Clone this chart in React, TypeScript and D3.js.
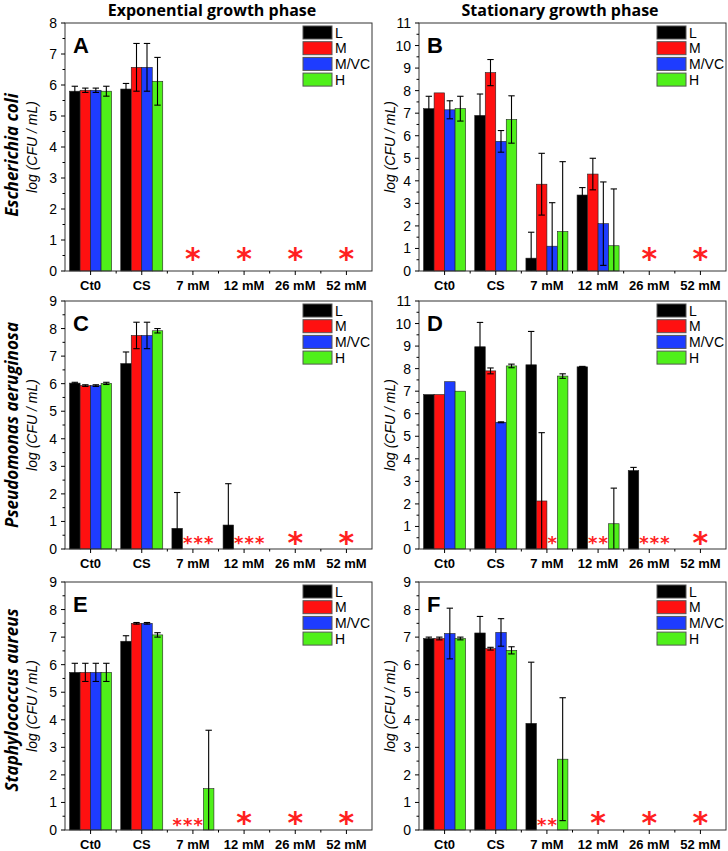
import React from "react";
import * as d3 from "d3";

const categories = ["Ct0", "CS", "7 mM", "12 mM", "26 mM", "52 mM"];
const seriesNames = ["L", "M", "M/VC", "H"];
const seriesColors = ["#000000", "#ff1010", "#1e3cff", "#4ff01a"];
const columnTitles = ["Exponential growth phase", "Stationary growth phase"];
const speciesNames = ["Escherichia coli", "Pseudomonas aeruginosa", "Staphylococcus aureus"];
const panelLetters = ["A", "B", "C", "D", "E", "F"];
const yMaxima = [8, 11, 9, 11, 9, 9];

// means / errors: one row per series (L, M, M/VC, H), one column per category
const meansA = [
  [5.8, 5.87, null, null, null, null],
  [5.83, 6.57, null, null, null, null],
  [5.83, 6.57, null, null, null, null],
  [5.8, 6.12, null, null, null, null],
];
const errorsA = [
  [0.16, 0.18, 0, 0, 0, 0],
  [0.07, 0.77, 0, 0, 0, 0],
  [0.07, 0.77, 0, 0, 0, 0],
  [0.16, 0.77, 0, 0, 0, 0],
];
const meansB = [
  [7.2, 6.9, 0.57, 3.37, null, null],
  [7.9, 8.8, 3.85, 4.3, null, null],
  [7.15, 5.75, 1.1, 2.1, null, null],
  [7.2, 6.72, 1.75, 1.12, null, null],
];
const errorsB = [
  [0.55, 0.95, 1.15, 0.33, 0, 0],
  [0, 0.58, 1.37, 0.7, 0, 0],
  [0.4, 0.48, 1.93, 1.85, 0, 0],
  [0.55, 1.05, 3.1, 2.52, 0, 0],
];
const meansC = [
  [6.02, 6.73, 0.75, 0.87, null, null],
  [5.93, 7.75, null, null, null, null],
  [5.93, 7.75, null, null, null, null],
  [6.01, 7.92, null, null, null, null],
];
const errorsC = [
  [0.03, 0.42, 1.3, 1.5, 0, 0],
  [0.03, 0.48, 0, 0, 0, 0],
  [0.03, 0.48, 0, 0, 0, 0],
  [0.04, 0.08, 0, 0, 0, 0],
];
const meansD = [
  [6.85, 8.97, 8.17, 8.08, 3.48, null],
  [6.85, 7.9, 2.13, null, null, null],
  [7.42, 5.62, null, null, null, null],
  [7.0, 8.12, 7.67, 1.12, null, null],
];
const errorsD = [
  [0, 1.08, 1.48, 0.02, 0.14, 0],
  [0, 0.13, 3.03, 0, 0, 0],
  [0, 0.02, 0, 0, 0, 0],
  [0, 0.08, 0.1, 1.58, 0, 0],
];
const meansE = [
  [5.72, 6.85, null, null, null, null],
  [5.72, 7.5, null, null, null, null],
  [5.72, 7.5, null, null, null, null],
  [5.72, 7.08, 1.5, null, null, null],
];
const errorsE = [
  [0.33, 0.2, 0, 0, 0, 0],
  [0.33, 0.03, 0, 0, 0, 0],
  [0.33, 0.03, 0, 0, 0, 0],
  [0.33, 0.08, 2.12, 0, 0, 0],
];
const meansF = [
  [6.95, 7.15, 3.87, null, null, null],
  [6.95, 6.58, null, null, null, null],
  [7.13, 7.17, null, null, null, null],
  [6.95, 6.52, 2.57, null, null, null],
];
const errorsF = [
  [0.05, 0.6, 2.22, 0, 0, 0],
  [0.05, 0.05, 0, 0, 0, 0],
  [0.92, 0.5, 0, 0, 0, 0],
  [0.05, 0.13, 2.23, 0, 0, 0],
];

// big asterisks: centred on a category
const bigStarsA = ["7 mM", "12 mM", "26 mM", "52 mM"];
const bigStarsB = ["26 mM", "52 mM"];
const bigStarsC = ["26 mM", "52 mM"];
const bigStarsD = ["52 mM"];
const bigStarsE = ["12 mM", "26 mM", "52 mM"];
const bigStarsF = ["12 mM", "26 mM", "52 mM"];
// small asterisks: [category, series]
const smallStarsA: [string, string][] = [];
const smallStarsB: [string, string][] = [];
const smallStarsC: [string, string][] = [
  ["7 mM", "M"], ["7 mM", "M/VC"], ["7 mM", "H"],
  ["12 mM", "M"], ["12 mM", "M/VC"], ["12 mM", "H"],
];
const smallStarsD: [string, string][] = [
  ["7 mM", "M/VC"], ["12 mM", "M"], ["12 mM", "M/VC"],
  ["26 mM", "M"], ["26 mM", "M/VC"], ["26 mM", "H"],
];
const smallStarsE: [string, string][] = [["7 mM", "L"], ["7 mM", "M"], ["7 mM", "M/VC"]];
const smallStarsF: [string, string][] = [["7 mM", "M"], ["7 mM", "M/VC"]];

const panelMeans = [meansA, meansB, meansC, meansD, meansE, meansF];
const panelErrors = [errorsA, errorsB, errorsC, errorsD, errorsE, errorsF];
const panelBigStars = [bigStarsA, bigStarsB, bigStarsC, bigStarsD, bigStarsE, bigStarsF];
const panelSmallStars = [smallStarsA, smallStarsB, smallStarsC, smallStarsD, smallStarsE, smallStarsF];

const W = 728;
const H = 851;
const colX = [[65, 372], [419, 726]];
const rowY = [[23, 271], [301, 549], [582, 830]];
const yLabelX = [37, 395];
const speciesY = [155, 425, 700];
const bigStarOffset = [18, 12, 13];
const smallStarOffset = [10, 10, 9];

const SANS = "'Liberation Sans', Arial, sans-serif";
const TITLE = "'Open Sans', 'DejaVu Sans', sans-serif";

function Panel({ idx }: { idx: number }) {
  const col = idx % 2;
  const row = Math.floor(idx / 2);
  const [x0, x1] = colX[col];
  const [y0, y1] = rowY[row];
  const ymax = yMaxima[idx];
  const x = d3.scaleBand<string>().domain(categories).range([x0, x1]).padding(0);
  const bw = x.bandwidth();
  const groupW = 42;
  const xs = d3
    .scaleBand<string>()
    .domain(seriesNames)
    .range([(bw - groupW) / 2, (bw + groupW) / 2])
    .padding(0);
  const y = d3.scaleLinear().domain([0, ymax]).range([y1, y0]);
  const means = panelMeans[idx];
  const errs = panelErrors[idx];
  const yTicks = d3.range(0, ymax + 1);
  const yMinor = d3.range(0.5, ymax, 1);
  const catCenter = (c: string) => (x(c) as number) + bw / 2;
  const barCenter = (c: string, s: string) => (x(c) as number) + (xs(s) as number) + xs.bandwidth() / 2;

  const bars: React.ReactNode[] = [];
  const errBars: React.ReactNode[] = [];
  seriesNames.forEach((s, si) => {
    categories.forEach((c, ci) => {
      const v = means[si][ci];
      if (v == null) return;
      const bx = (x(c) as number) + (xs(s) as number);
      bars.push(
        <rect
          key={`b${si}-${ci}`}
          x={bx}
          y={y(v)}
          width={xs.bandwidth()}
          height={y(0) - y(v)}
          fill={seriesColors[si]}
          stroke="#222"
          strokeWidth={0.6}
        />
      );
      const e = errs[si][ci];
      if (e > 0) {
        const cx = bx + xs.bandwidth() / 2;
        const top = y(v + e);
        const bot = y(Math.max(0, v - e));
        errBars.push(
          <g key={`e${si}-${ci}`} stroke="#000" strokeWidth={1.1}>
            <line x1={cx} x2={cx} y1={top} y2={bot} />
            <line x1={cx - 3.2} x2={cx + 3.2} y1={top} y2={top} />
            {v - e > 0 && <line x1={cx - 3.2} x2={cx + 3.2} y1={bot} y2={bot} />}
          </g>
        );
      }
    });
  });

  return (
    <g>
      {bars}
      {errBars}
      <rect x={x0} y={y0} width={x1 - x0} height={y1 - y0} fill="none" stroke="#333" strokeWidth={1} />
      {yTicks.map((t) => (
        <g key={`yt${t}`}>
          <line x1={x0 - 4} x2={x0} y1={y(t)} y2={y(t)} stroke="#000" />
          <text x={x0 - 8} y={y(t) + 5} textAnchor="end" fontFamily={SANS} fontSize={14} fill="#000">
            {t}
          </text>
        </g>
      ))}
      {yMinor.map((t) => (
        <line key={`ym${t}`} x1={x0 - 2.5} x2={x0} y1={y(t)} y2={y(t)} stroke="#000" />
      ))}
      {categories.map((c) => (
        <g key={`xt${c}`}>
          <line x1={catCenter(c)} x2={catCenter(c)} y1={y1} y2={y1 + 4} stroke="#000" />
          <text x={catCenter(c)} y={y1 + 18.5} textAnchor="middle" fontFamily={SANS} fontWeight="bold" fontSize={13} fill="#000">
            {c}
          </text>
        </g>
      ))}
      {categories.slice(1).map((c) => (
        <line key={`xm${c}`} x1={x(c) as number} x2={x(c) as number} y1={y1} y2={y1 + 2.5} stroke="#000" />
      ))}
      <text x={x0 + 8} y={y0 + 30} fontFamily={SANS} fontWeight="bold" fontSize={22} fill="#000">
        {panelLetters[idx]}
      </text>
      {seriesNames.map((s, si) => {
        const ly = y0 + 3 + si * 15.7;
        return (
          <g key={`lg${s}`}>
            <rect x={x1 - 69} y={ly} width={29} height={13} fill={seriesColors[si]} stroke="#555" strokeWidth={1} />
            <text x={x1 - 37} y={ly + 11.5} fontFamily={SANS} fontSize={14} fill="#000">
              {s}
            </text>
          </g>
        );
      })}
      {panelBigStars[idx].map((c) => (
        <text
          key={`bs${c}`}
          x={catCenter(c)}
          y={y1 - bigStarOffset[row] + 16}
          textAnchor="middle"
          fontFamily="'DejaVu Sans', sans-serif"
          fontWeight="bold"
          fontSize={30}
          fill="#ff2020"
        >
          *
        </text>
      ))}
      {panelSmallStars[idx].map(([c, s]) => (
        <text
          key={`ss${c}${s}`}
          x={barCenter(c, s)}
          y={y1 - smallStarOffset[row] + 10}
          textAnchor="middle"
          fontFamily="'DejaVu Sans', sans-serif"
          fontWeight="bold"
          fontSize={18}
          fill="#ff2020"
        >
          *
        </text>
      ))}
      <text
        transform={`translate(${yLabelX[col]},${(y0 + y1) / 2}) rotate(-90)`}
        textAnchor="middle"
        fontFamily={SANS}
        fontStyle="italic"
        fontSize={14}
        fill="#000"
      >
        log (CFU / mL)
      </text>
    </g>
  );
}

export default function App() {
  return (
    <svg width={W} height={H} style={{ display: "block", position: "absolute", left: 0, top: 0, background: "#fff" }}>
      <rect width={W} height={H} fill="#fff" />
      {columnTitles.map((t, i) => (
        <text
          key={t}
          x={i === 0 ? 212 : 560}
          y={16}
          textAnchor="middle"
          fontFamily={TITLE}
          fontWeight="bold"
          fontSize={16}
          fill="#000"
        >
          {t}
        </text>
      ))}
      {speciesNames.map((s, i) => (
        <text
          key={s}
          transform={`translate(18,${speciesY[i]}) rotate(-90)`}
          textAnchor="middle"
          fontFamily={TITLE}
          fontWeight="bold"
          fontStyle="italic"
          fontSize={17}
          fill="#000"
        >
          {s}
        </text>
      ))}
      {d3.range(6).map((i) => (
        <Panel key={i} idx={i} />
      ))}
    </svg>
  );
}
